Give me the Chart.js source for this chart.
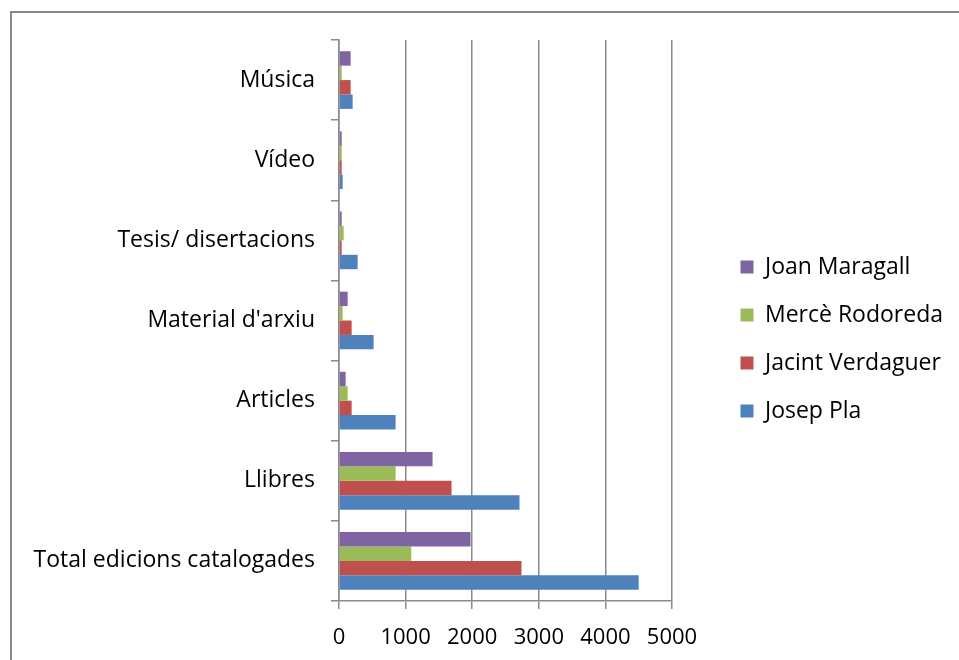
<!DOCTYPE html>
<html>
<head>
<meta charset="utf-8">
<title>Edicions catalogades per autor</title>
<script src="https://cdn.jsdelivr.net/npm/chart.js@4/dist/chart.umd.min.js"></script>
<style>
    html, body { margin: 0; padding: 0; background: #fff; overflow: hidden; }
    .wrap { position: relative; width: 959px; height: 660px; overflow: hidden; }
    .frame {
        position: absolute; left: 10px; top: 11px;
        width: 1000px; height: 700px;
        border-left: 2px solid #898989; border-top: 2px solid #898989;
        pointer-events: none;
    }
    canvas { position: absolute; left: 0; top: 0; }
</style>
</head>
<body>
<div class="wrap">
    <canvas id="chart" width="959" height="660"></canvas>
    <div class="frame"></div>
</div>
<script>
// categories, bottom to top (axis is reversed)
const categories = [
    'Total edicions catalogades',
    'Llibres',
    'Articles',
    "Material d'arxiu",
    'Tesis/ disertacions',
    'Vídeo',
    'Música'
];

const josepPla        = [4500, 2710, 850, 520, 280, 55, 205];
const jacintVerdaguer = [2740, 1690, 190, 190, 40, 40, 175];
const merceRodoreda   = [1085, 850, 130, 55, 70, 40, 40];
const joanMaragall    = [1975, 1405, 100, 130, 40, 40, 175];

const xTicks = [0, 1000, 2000, 3000, 4000, 5000];

const FAMILY = "'Open Sans', 'Liberation Sans', sans-serif";
const LABEL_FONT = { family: FAMILY, size: 23 };
const TICK_FONT = { family: FAMILY, size: 22 };
const AXIS_GREY = '#8a8a8a';
const PLOT_RIGHT = 672;
const PAD_RIGHT = 6;

const makeSet = (label, data, color) => ({
    label,
    data,
    backgroundColor: color,
    borderWidth: 0,
    xAxisID: 'x',
    yAxisID: 'y'
});

// spacer axes: take up room in the layout, draw nothing
const spacer = (axis, position, size) => ({
    type: 'linear',
    axis,
    position,
    display: false,
    afterFit: (scale) => {
        const s = typeof size === 'function' ? size(scale) : size;
        if (axis === 'x') scale.height = s; else scale.width = s;
    }
});

const chart = new Chart(document.getElementById('chart'), {
    type: 'bar',
    data: {
        labels: categories,
        datasets: [
            makeSet('Joan Maragall', joanMaragall, '#8064A2'),
            makeSet('Mercè Rodoreda', merceRodoreda, '#9BBB59'),
            makeSet('Jacint Verdaguer', jacintVerdaguer, '#C0504D'),
            makeSet('Josep Pla', josepPla, '#4F81BD')
        ]
    },
    options: {
        indexAxis: 'y',
        responsive: false,
        animation: false,
        categoryPercentage: 0.72,
        barPercentage: 1,
        layout: { padding: { top: 25, left: 0, right: PAD_RIGHT, bottom: 7 } },
        plugins: {
            tooltip: { enabled: false },
            legend: {
                position: 'right',
                labels: {
                    color: '#000',
                    font: LABEL_FONT,
                    boxWidth: 13,
                    boxHeight: 13,
                    padding: 25
                }
            }
        },
        scales: {
            x: {
                min: 0,
                max: 5000,
                afterBuildTicks: (scale) => {
                    scale.ticks = xTicks.map(v => ({ value: v }));
                },
                afterFit: (scale) => { scale.height = 52; },
                grid: {
                    color: AXIS_GREY,
                    lineWidth: 1.5,
                    tickLength: 8
                },
                border: { color: AXIS_GREY, width: 1.5 },
                ticks: {
                    color: '#000',
                    font: TICK_FONT,
                    padding: 16,
                    maxRotation: 0,
                    callback: (value) => String(value)
                }
            },
            y: {
                reverse: true,
                afterFit: (scale) => { scale.width = 339; },
                grid: {
                    color: AXIS_GREY,
                    lineWidth: 1.5,
                    drawOnChartArea: false,
                    tickLength: 8
                },
                border: { color: AXIS_GREY, width: 1.5 },
                ticks: {
                    color: '#000',
                    font: LABEL_FONT,
                    padding: 16
                }
            },
            topGap: spacer('x', 'top', 15),
            // strip between the plot and the legend
            gap: spacer('y', 'right', (scale) => {
                const c = scale.chart;
                return Math.max(0, c.width - PAD_RIGHT - c.legend.width - PLOT_RIGHT);
            })
        }
    }
});
</script>
</body>
</html>
